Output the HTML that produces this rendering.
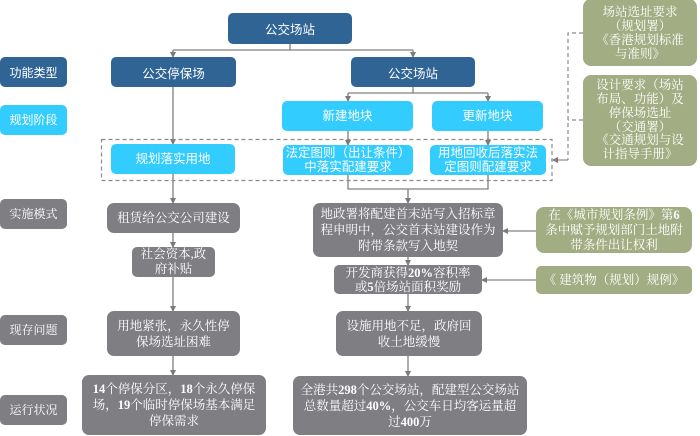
<!DOCTYPE html>
<html><head><meta charset="utf-8">
<style>
html,body{margin:0;padding:0;background:#fff;}
body{width:700px;height:436px;position:relative;overflow:hidden;}
.b{position:absolute;display:flex;align-items:center;justify-content:center;text-align:center;color:#fff;box-sizing:border-box;border-radius:5px;}
.d{background:#2f6494;font-family:"Liberation Sans","Noto Sans CJK SC",sans-serif;font-size:12.5px;}
.l{background:#33ccff;font-family:"Liberation Sans","Noto Sans CJK SC",sans-serif;font-size:12.5px;line-height:14px;}
.g{background:#7f7e83;font-family:"Liberation Serif","Noto Serif CJK SC",serif;font-size:12.5px;line-height:16px;border-radius:7px;}
.gr{background:#a3ad83;font-family:"Liberation Serif","Noto Serif CJK SC",serif;font-size:12.5px;line-height:14px;border-radius:8px;}
.lab{font-size:12px;}
svg{position:absolute;left:0;top:0;}
b{font-weight:bold;}
</style></head><body>
<svg width="700" height="436" viewBox="0 0 700 436">
<defs>
<marker id="a" markerWidth="6" markerHeight="6" refX="5" refY="3" orient="auto" markerUnits="userSpaceOnUse"><path d="M0,0 L6,3 L0,6 z" fill="#7a7a7a"/></marker>
</defs>
<g stroke="#808080" stroke-width="1.3" fill="none">
<path d="M290,44 V50 M173,50 H413"/>
<path d="M173,50 V57" marker-end="url(#a)"/>
<path d="M413,50 V57" marker-end="url(#a)"/>
<path d="M173,87 V144" marker-end="url(#a)"/>
<path d="M413,87 V93 M348,93 H488"/>
<path d="M348,93 V101" marker-end="url(#a)"/>
<path d="M488,93 V101" marker-end="url(#a)"/>
<path d="M348,131 V145" marker-end="url(#a)"/>
<path d="M488,131 V145" marker-end="url(#a)"/>
<path d="M173,174 V203" marker-end="url(#a)"/>
<path d="M173,233 V247" marker-end="url(#a)"/>
<path d="M173,277 V311" marker-end="url(#a)"/>
<path d="M173,356 V375" marker-end="url(#a)"/>
<path d="M348,175 V189 H488 V175"/>
<path d="M408,189 V203" marker-end="url(#a)"/>
<path d="M408,257 V265" marker-end="url(#a)"/>
<path d="M408,294 V311" marker-end="url(#a)"/>
<path d="M408,356 V376" marker-end="url(#a)"/>
<path d="M536,231 H503" marker-end="url(#a)"/>
<path d="M536,280 H482" marker-end="url(#a)"/>
</g>
<g stroke="#8a8a8a" stroke-width="1.2" fill="none" stroke-dasharray="4,3">
<rect x="101.5" y="139.5" width="450.5" height="41"/>
<path d="M583,33 H568 V160 M583,120 H568"/>
</g>
<path d="M568,160 H553" stroke="#8a8a8a" stroke-width="1.2" fill="none" marker-end="url(#a)"/>
</svg>

<div class="b d" style="left:228px;top:13px;width:124px;height:31px;">公交场站</div>
<div class="b d lab" style="left:0;top:57px;width:67px;height:30px;">功能类型</div>
<div class="b d" style="left:111px;top:57px;width:125px;height:30px;">公交停保场</div>
<div class="b d" style="left:351px;top:57px;width:124px;height:30px;">公交场站</div>

<div class="b l lab" style="left:0;top:105px;width:67px;height:30px;">规划阶段</div>
<div class="b l" style="left:282px;top:101px;width:131px;height:30px;">新建地块</div>
<div class="b l" style="left:432px;top:101px;width:111px;height:30px;">更新地块</div>
<div class="b l" style="left:111px;top:144px;width:124px;height:30px;">规划落实用地</div>
<div class="b l" style="left:283px;top:145px;width:130px;height:30px;">法定图则（出让条件）<br>中落实配建要求</div>
<div class="b l" style="left:430px;top:145px;width:116px;height:30px;">用地回收后落实法<br>定图则配建要求</div>

<div class="b gr" style="left:583px;top:-1px;width:114px;height:67px;">场站选址要求<br>（规划署）<br>《香港规划标准<br>与准则》</div>
<div class="b gr" style="left:583px;top:75px;width:114px;height:91px;line-height:13.8px;">设计要求（场站<br>布局、功能）及<br>停保场选址<br>（交通署）<br>《交通规划与设<br>计指导手册》</div>

<div class="b g lab" style="left:0;top:199px;width:67px;height:30px;border-radius:5px;">实施模式</div>
<div class="b g" style="left:107px;top:203px;width:133px;height:30px;">租赁给公交公司建设</div>
<div class="b g" style="left:132px;top:247px;width:83px;height:30px;line-height:15px;border-radius:5px;">社会资本,政<br>府补贴</div>
<div class="b g lab" style="left:0;top:315px;width:67px;height:30px;border-radius:5px;">现存问题</div>
<div class="b g" style="left:107px;top:311px;width:133px;height:45px;">用地紧张，永久性停<br>保场选址困难</div>
<div class="b g lab" style="left:0;top:395px;width:67px;height:30px;border-radius:5px;">运行状况</div>
<div class="b g" style="left:82px;top:375px;width:184px;height:60px;"><span><b>14</b>个停保分区，<b>18</b>个永久停保<br>场，<b>19</b>个临时停保场基本满足<br>停保需求</span></div>

<div class="b g" style="left:313px;top:203px;width:190px;height:54px;">地政署将配建首末站写入招标章<br>程申明中，公交首末站建设作为<br>附带条款写入地契</div>
<div class="b g" style="left:334px;top:265px;width:148px;height:29px;line-height:14px;border-radius:5px;"><span>开发商获得<b>20%</b>容积率<br>或<b>5</b>倍场站面积奖励</span></div>
<div class="b g" style="left:336px;top:311px;width:146px;height:45px;">设施用地不足，政府回<br>收土地缓慢</div>
<div class="b g" style="left:293px;top:376px;width:234px;height:59px;"><span>全港共<b>298</b>个公交场站，配建型公交场站<br>总数量超过<b>40%</b>，公交车日均客运量超<br>过<b>400</b>万</span></div>

<div class="b gr" style="left:536px;top:207px;width:156px;height:46px;line-height:15px;"><span>在《城市规划条例》第<b>6</b><br>条中赋予规划部门土地附<br>带条件出让权利</span></div>
<div class="b gr" style="left:536px;top:266px;width:156px;height:28px;border-radius:5px;">《 建筑物（规划）规例》</div>
</body></html>
